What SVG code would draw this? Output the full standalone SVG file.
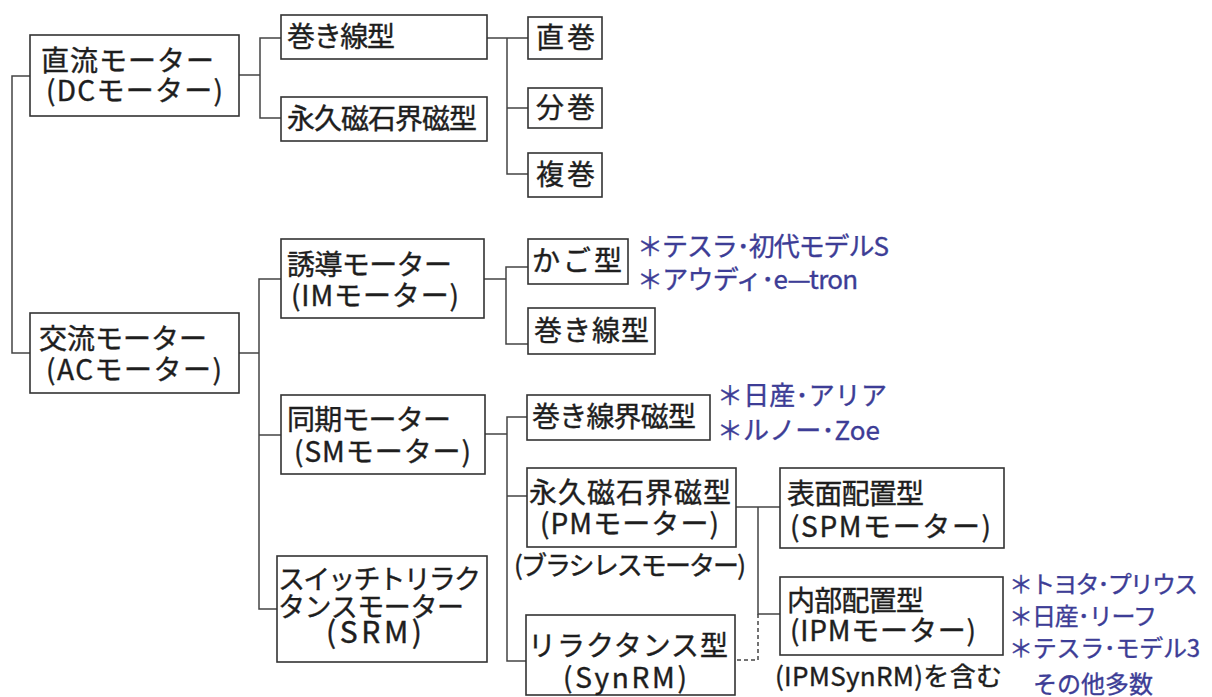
<svg xmlns="http://www.w3.org/2000/svg" width="1212" height="697" viewBox="0 0 1212 697">
<style>
.box{fill:#fff;stroke:#333;stroke-width:1.6}
.t{font-family:"Noto Sans CJK JP","Noto Sans",sans-serif;font-size:28px;fill:#1e1e1e;stroke:#1e1e1e;stroke-width:0.4}
.m{font-size:27px}
.s{font-size:26px}
.b{font-family:"Noto Sans CJK JP","Noto Sans",sans-serif;font-size:26px;fill:#3d3d96;stroke:#3d3d96;stroke-width:0.35}
.b2{font-size:24px}
.conn{fill:none;stroke:#444;stroke-width:1.5}
.dash{stroke-dasharray:4 3}
</style>
<rect width="1212" height="697" fill="#fff"/>
<g id="connectors">
<path class="conn" d="M30,76 H12 V353 H30"/>
<path class="conn" d="M239,75 H260 M281,38 H260 V118 H281"/>
<path class="conn" d="M487,38 H528 M507,38 V174 H528 M507,108 H528"/>
<path class="conn" d="M239,353 H259 M281,279 H259 V609 H277 M259,435 H281"/>
<path class="conn" d="M484,279 H506 M528,267 H506 V344 H528"/>
<path class="conn" d="M485,434 H507 M527,417 H507 V661 H526 M507,496 H527"/>
<path class="conn" d="M736,507 H780 M758,507 V614 H780"/>
<path class="conn dash" d="M758,614 V660 H735"/>
</g>
<g id="n-dc"><rect class="box" x="30" y="35" width="209" height="81"/>
<text class="t" x="41" y="71" textLength="173">直流モーター</text>
<text class="t" x="46" y="101" textLength="177">(DCモーター)</text></g>
<g id="n-dc-wound"><rect class="box" x="281" y="15" width="206" height="44"/>
<text class="t" x="287" y="47" textLength="108">巻き線型</text></g>
<g id="n-dc-pm"><rect class="box" x="281" y="97" width="206" height="44"/>
<text class="t" x="287" y="129" textLength="190">永久磁石界磁型</text></g>
<g id="n-series"><rect class="box" x="528" y="17" width="74" height="42"/>
<text class="t" x="536" y="48" textLength="59">直巻</text></g>
<g id="n-shunt"><rect class="box" x="528" y="88" width="74" height="40"/>
<text class="t" x="536" y="118" textLength="59">分巻</text></g>
<g id="n-compound"><rect class="box" x="528" y="153" width="74" height="44"/>
<text class="t" x="536" y="185" textLength="59">複巻</text></g>
<g id="n-ac"><rect class="box" x="30" y="313" width="209" height="80"/>
<text class="t" x="39" y="349" textLength="168">交流モーター</text>
<text class="t" x="46" y="380" textLength="176">(ACモーター)</text></g>
<g id="n-im"><rect class="box" x="281" y="239" width="203" height="79"/>
<text class="t" x="287" y="275" textLength="165">誘導モーター</text>
<text class="t" x="291" y="306" textLength="168">(IMモーター)</text></g>
<g id="n-cage"><rect class="box" x="528" y="239" width="100" height="45"/>
<text class="t" x="532" y="271" textLength="90">かご型</text></g>
<g id="n-im-wound"><rect class="box" x="528" y="308" width="127" height="46"/>
<text class="t" x="534" y="341" textLength="115">巻き線型</text></g>
<g id="n-sm"><rect class="box" x="281" y="395" width="204" height="79"/>
<text class="t" x="287" y="430" textLength="164">同期モーター</text>
<text class="t" x="294" y="462" textLength="177">(SMモーター)</text></g>
<g id="n-sm-wound"><rect class="box" x="527" y="395" width="183" height="45"/>
<text class="t" x="532" y="427" textLength="164">巻き線界磁型</text></g>
<g id="n-pm"><rect class="box" x="527" y="468" width="209" height="79"/>
<text class="t" x="529" y="503" textLength="202">永久磁石界磁型</text>
<text class="t" x="540" y="534" textLength="179">(PMモーター)</text></g>
<text class="t s" x="514" y="575" textLength="232">(ブラシレスモーター)</text>
<g id="n-srm"><rect class="box" x="277" y="556" width="210" height="106"/>
<text class="t m" x="278" y="589" textLength="203">スイッチトリラク</text>
<text class="t m" x="278" y="617" textLength="186">タンスモーター</text>
<text class="t" style="font-size:30px" x="326" y="643" textLength="96">(SRM)</text></g>
<g id="n-synrm"><rect class="box" x="526" y="615" width="209" height="80"/>
<text class="t" x="528" y="656" textLength="200">リラクタンス型</text>
<text class="t" x="563" y="688" textLength="124">(SynRM)</text></g>
<g id="n-spm"><rect class="box" x="780" y="468" width="224" height="80"/>
<text class="t" x="787" y="504" textLength="137">表面配置型</text>
<text class="t" x="790" y="537" textLength="201">(SPMモーター)</text></g>
<g id="n-ipm"><rect class="box" x="780" y="577" width="223" height="78"/>
<text class="t" x="787" y="611" textLength="137">内部配置型</text>
<text class="t" x="790" y="641" textLength="186">(IPMモーター)</text></g>
<text class="t s" x="775" y="686" textLength="227">(IPMSynRM)を含む</text>
<g id="notes">
<text class="b" x="637" y="256" textLength="252">＊テスラ･初代モデルS</text>
<text class="b" x="637" y="289" textLength="221">＊アウディ･e—tron</text>
<text class="b" x="717" y="405" textLength="170">＊日産･アリア</text>
<text class="b" x="717" y="440" textLength="163">＊ルノー･Zoe</text>
<text class="b b2" x="1009" y="593" textLength="189">＊トヨタ･プリウス</text>
<text class="b b2" x="1009" y="625" textLength="148">＊日産･リーフ</text>
<text class="b b2" x="1009" y="657" textLength="191">＊テスラ･モデル3</text>
<text class="b b2" x="1033" y="693" textLength="120">その他多数</text>
</g>
</svg>
